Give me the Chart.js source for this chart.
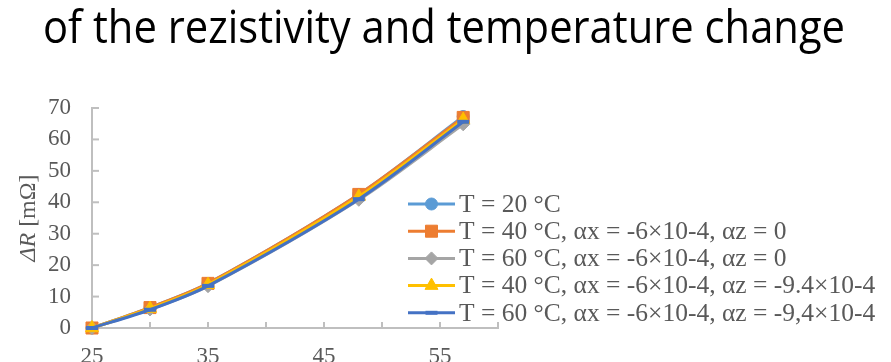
<!DOCTYPE html>
<html>
<head>
<meta charset="utf-8">
<script src="https://cdn.jsdelivr.net/npm/chart.js@4.4.1/dist/chart.umd.min.js"></script>
<style>
  html, body { margin: 0; padding: 0; overflow: hidden; background: #fff; }
  #wrap { width: 891px; height: 392px; position: relative; }
</style>
</head>
<body>
<div id="wrap"><canvas id="myChart"></canvas></div>
<script>
// data
var xValues = [25, 30, 35, 48, 57];
var seriesT20 = [0, 6.5, 14.2, 42.5, 67.3];
var seriesT40a = [0, 6.5, 14.2, 42.5, 67.0];
var seriesT60a = [0, 5.9, 13.3, 40.8, 64.8];
var seriesT40b = [0, 6.2, 13.8, 41.8, 66.3];
var seriesT60b = [0, 5.8, 13.4, 41.0, 65.6];

var seriesNames = [
  "T = 20 \u00B0C",
  "T = 40 \u00B0C, \u03B1x = -6\u00D710-4, \u03B1z = 0",
  "T = 60 \u00B0C, \u03B1x = -6\u00D710-4, \u03B1z = 0",
  "T = 40 \u00B0C, \u03B1x = -6\u00D710-4, \u03B1z = -9.4\u00D710-4",
  "T = 60 \u00B0C, \u03B1x = -6\u00D710-4, \u03B1z = -9,4\u00D710-4"
];
var seriesValues = [seriesT20, seriesT40a, seriesT60a, seriesT40b, seriesT60b];
var seriesColors = ["#5B9BD5", "#ED7D31", "#A5A5A5", "#FFC000", "#4472C4"];
var markerStyles = ["circle", "rect", "rectRot", "triangle", "line"];
var markerSizes = [6, 8.5, 6.5, 7.5, 6];

var xMin = 25, xMax = 60, xStep = 5;
var yMin = 0, yMax = 70, yStep = 10;
var xLabelled = [25, 35, 45, 55];

var titleText = "of the rezistivity and temperature change";
var axisColor = "#BFBFBF";
var textColor = "#595959";
var serif = "'Liberation Serif', 'Times New Roman', serif";

var datasets = seriesValues.map(function (vals, i) {
  return {
    label: seriesNames[i],
    data: vals.map(function (v, k) { return { x: xValues[k], y: v }; }),
    borderColor: seriesColors[i],
    backgroundColor: seriesColors[i],
    borderWidth: 3,
    tension: 0.3,
    clip: false,
    pointStyle: markerStyles[i],
    pointRadius: markerSizes[i],
    pointBorderWidth: markerStyles[i] == "line" ? 4 : 1,
    pointBackgroundColor: seriesColors[i],
    pointBorderColor: seriesColors[i],
    order: seriesValues.length - i   // later series on top, like the original
  };
});

// big slide title, squeezed to the width it has in the picture
var slideTitle = {
  id: "slideTitle",
  afterDraw: function (chart) {
    var ctx = chart.ctx;
    ctx.save();
    ctx.font = "45px 'Open Sans', 'Noto Sans', sans-serif";
    ctx.fillStyle = "#000";
    ctx.textBaseline = "alphabetic";
    var w = ctx.measureText(titleText).width;
    var sx = 802 / w;
    ctx.translate(444, 43);
    ctx.scale(sx, 1);
    ctx.textAlign = "center";
    ctx.fillText(titleText, 0, 0);
    ctx.restore();
  }
};

// short tick marks pointing into the plot
var innerTicks = {
  id: "innerTicks",
  beforeDatasetsDraw: function (chart) {
    var ctx = chart.ctx, area = chart.chartArea;
    ctx.save();
    ctx.strokeStyle = axisColor;
    ctx.lineWidth = 2;
    chart.scales.x.ticks.forEach(function (t) {
      var px = chart.scales.x.getPixelForValue(t.value);
      ctx.beginPath(); ctx.moveTo(px, area.bottom); ctx.lineTo(px, area.bottom - 6); ctx.stroke();
    });
    chart.scales.y.ticks.forEach(function (t) {
      var py = chart.scales.y.getPixelForValue(t.value);
      ctx.beginPath(); ctx.moveTo(area.left, py); ctx.lineTo(area.left + 7, py); ctx.stroke();
    });
    ctx.restore();
  }
};

// y axis title with italic ΔR
var yTitle = {
  id: "yTitle",
  afterDraw: function (chart) {
    var ctx = chart.ctx, area = chart.chartArea;
    var italic = "italic 24px " + serif, normal = "24px " + serif;
    ctx.save();
    ctx.translate(29, (area.top + area.bottom) / 2);
    ctx.rotate(-Math.PI / 2);
    ctx.fillStyle = textColor;
    ctx.textBaseline = "middle";
    ctx.font = italic;
    var w1 = ctx.measureText("\u0394R").width;
    ctx.font = normal;
    var w2 = ctx.measureText(" [m\u03A9]").width;
    var x0 = -(w1 + w2) / 2;
    ctx.font = italic;
    ctx.fillText("\u0394R", x0, 0);
    ctx.font = normal;
    ctx.fillText(" [m\u03A9]", x0 + w1, 0);
    ctx.restore();
  }
};

// legend overlapping the right part of the chart
var sideLegend = {
  id: "sideLegend",
  afterDraw: function (chart) {
    var ctx = chart.ctx;
    var left = 408, lineLen = 47, top = 204, rowH = 27.2;
    var legendSizes = [6, 8.5, 6.5, 7.5, 6];
    ctx.save();
    chart.data.datasets.forEach(function (ds, i) {
      var y = top + i * rowH;
      ctx.strokeStyle = ds.borderColor;
      ctx.fillStyle = ds.borderColor;
      ctx.lineWidth = 3;
      ctx.beginPath(); ctx.moveTo(left, y); ctx.lineTo(left + lineLen, y); ctx.stroke();
      ctx.lineWidth = ds.pointBorderWidth;
      Chart.helpers.drawPoint(ctx, { pointStyle: ds.pointStyle, radius: legendSizes[i], rotation: 0, borderWidth: ds.pointBorderWidth }, left + lineLen / 2, y);
      ctx.fillStyle = textColor;
      ctx.font = "25.5px " + serif;
      ctx.textBaseline = "middle";
      ctx.fillText(ds.label, left + lineLen + 4, y + 1);
    });
    ctx.restore();
  }
};

var context = document.getElementById("myChart").getContext("2d");
new Chart(context, {
  type: "line",
  data: { datasets: datasets },
  plugins: [innerTicks, yTitle, sideLegend, slideTitle],
  options: {
    responsive: true,
    maintainAspectRatio: false,
    animation: false,
    layout: { padding: { left: 0, right: 393, top: 108, bottom: 0 } },
    plugins: {
      legend: { display: false },
      tooltip: { enabled: false }
    },
    scales: {
      x: {
        type: "linear",
        min: xMin, max: xMax,
        grid: { display: false, drawTicks: false },
        border: { display: true, color: axisColor, width: 2 },
        afterFit: function (scale) { scale.height = 64; },
        ticks: {
          stepSize: xStep,
          autoSkip: false,
          maxRotation: 0,
          padding: 15,
          color: textColor,
          font: { family: serif, size: 23 },
          callback: function (v) { return xLabelled.indexOf(v) >= 0 ? String(v) : ""; }
        }
      },
      y: {
        min: yMin, max: yMax,
        grid: { display: false, drawTicks: false },
        border: { display: true, color: axisColor, width: 2 },
        afterFit: function (scale) { scale.width = 92; },
        ticks: {
          stepSize: yStep,
          padding: 21,
          color: textColor,
          font: { family: serif, size: 23 }
        }
      }
    }
  }
});
</script>
</body>
</html>
